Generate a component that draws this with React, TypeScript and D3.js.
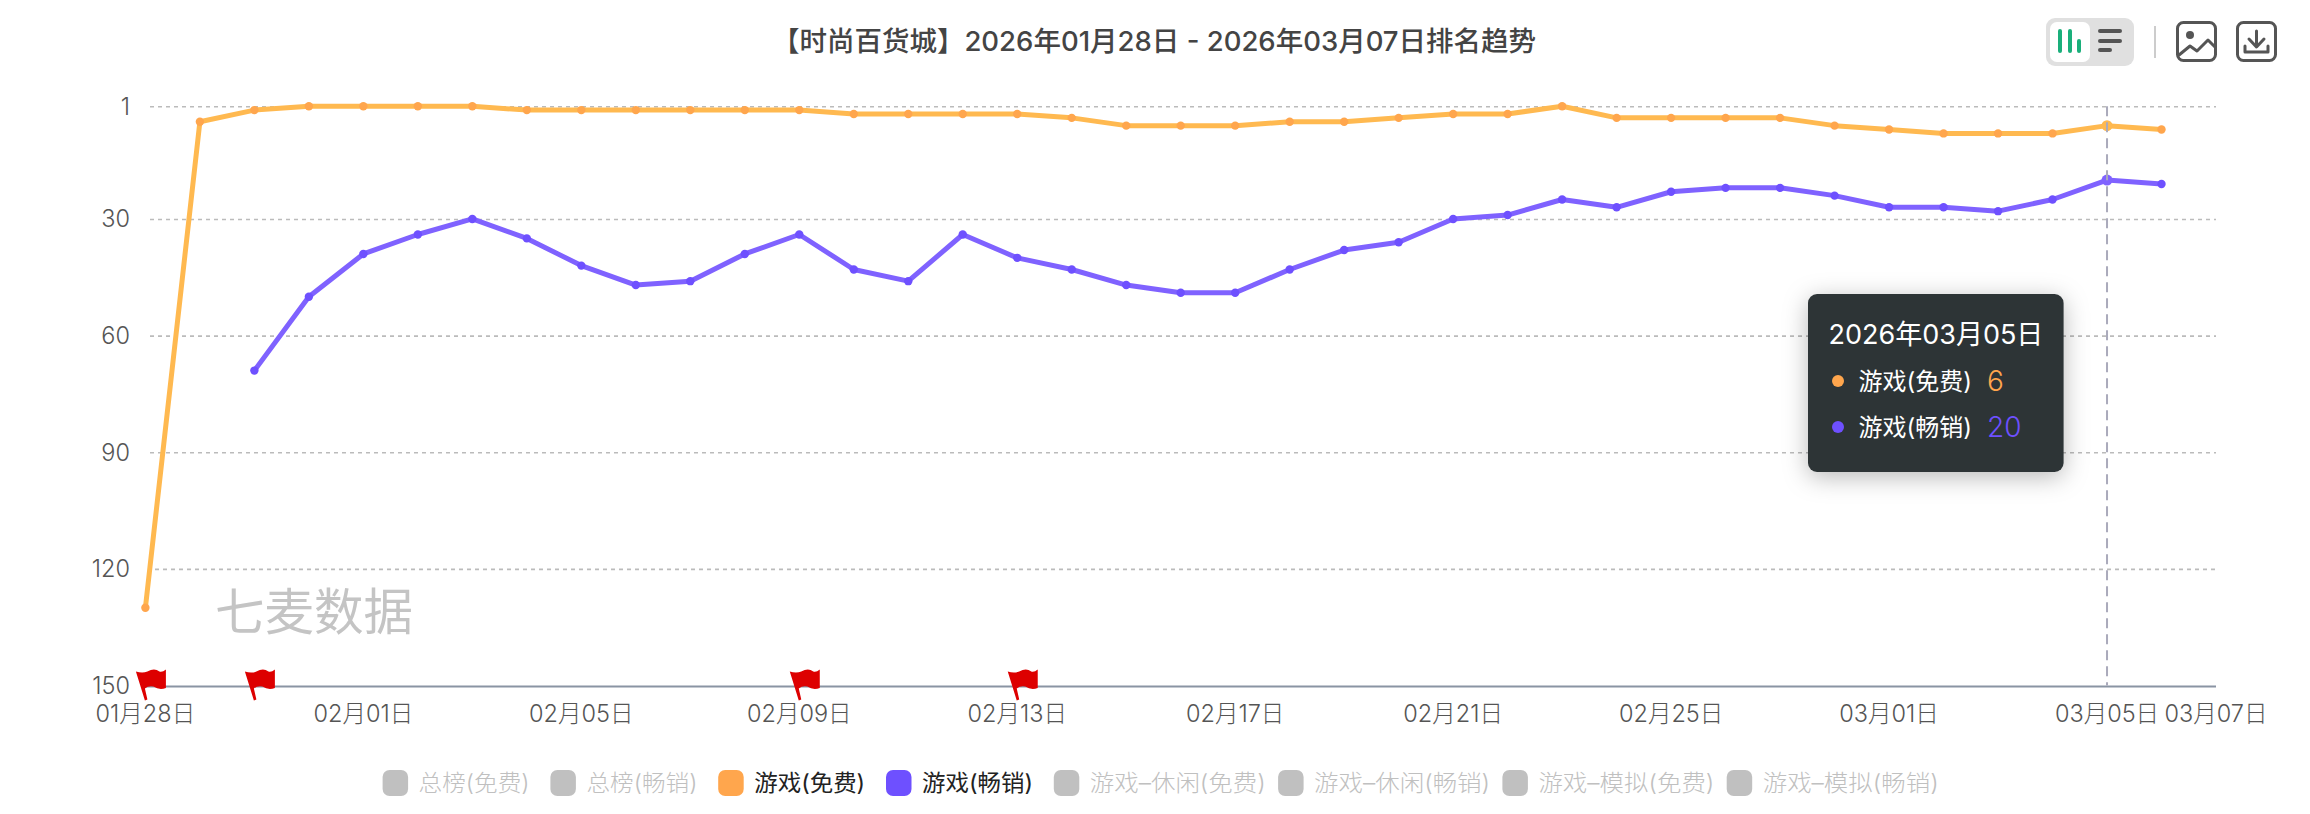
import React from "react";
import * as d3 from "d3";

const WIDTH = 2310;
const HEIGHT = 814;
const FONT = 'Inter, "Noto Sans CJK SC", sans-serif';

const dayLabels = [
  "01月28日","01月29日","01月30日","01月31日","02月01日","02月02日","02月03日","02月04日","02月05日","02月06日",
  "02月07日","02月08日","02月09日","02月10日","02月11日","02月12日","02月13日","02月14日","02月15日","02月16日",
  "02月17日","02月18日","02月19日","02月20日","02月21日","02月22日","02月23日","02月24日","02月25日","02月26日",
  "02月27日","02月28日","03月01日","03月02日","03月03日","03月04日","03月05日","03月06日","03月07日",
];
const xTickDays = [0, 4, 8, 12, 16, 20, 24, 28, 32, 36, 38];
const yTicks = [1, 30, 60, 90, 120, 150];
const gameFree: number[] = [130,5,2,1,1,1,1,2,2,2,2,2,2,3,3,3,3,4,6,6,6,5,5,4,3,3,1,4,4,4,4,6,7,8,8,8,6,7];
const gamePaid: (number | null)[] = [null,null,69,50,39,34,30,35,42,47,46,39,34,43,46,34,40,43,47,49,49,43,38,36,30,29,25,27,23,22,22,24,27,27,28,25,20,21];
const flagDays = [0, 2, 12, 16];
const hoverDay = 36;
const legendLabels = ["总榜(免费)","总榜(畅销)","游戏(免费)","游戏(畅销)","游戏–休闲(免费)","游戏–休闲(畅销)","游戏–模拟(免费)","游戏–模拟(畅销)"];
const legendActive = ["游戏(免费)", "游戏(畅销)"];
const titleText = "【时尚百货城】2026年01月28日 - 2026年03月07日排名趋势";
const tooltipTitle = "2026年03月05日";

const ORANGE = "#FFA64D";
const ORANGE_LINE = "#FFB950";
const PURPLE = "#6E50FF";
const PURPLE_LINE = "#7F62FF";

const x = d3.scaleLinear().domain([0, 38]).range([145.4, 2216]);
const y = d3.scaleLinear().domain([1, 150]).range([106.2, 685.5]);

const linePath = d3
  .line<number | null>()
  .defined((d) => d !== null)
  .x((_, i) => x(i))
  .y((d) => y(d as number));

const FLAG = "M-9.5,-15 Q-3,-13 2,-15 Q9,-19 14,-15 Q17,-14 20.5,-17 L20.5,1.5 Q14,4 8,0 Q3,-1 -0.5,2 L2,13 L-0.5,14 Z";

function Series({ values, line, dot }: { values: (number | null)[]; line: string; dot: string }) {
  return (
    <g>
      <path d={linePath(values) ?? ""} fill="none" stroke={line} strokeWidth={5} strokeLinejoin="round" />
      {values.map((v, i) =>
        v === null ? null : <circle key={i} cx={x(i)} cy={y(v)} r={i === hoverDay ? 5.5 : 4.2} fill={i === hoverDay ? line : dot} />
      )}
    </g>
  );
}

function Toolbar() {
  const ic = { fill: "none", stroke: "#555", strokeWidth: 3, strokeLinejoin: "round" as const, strokeLinecap: "round" as const };
  return (
    <g>
      <rect x={2046} y={18} width={88} height={48} rx={9} fill="#e0e0e0" />
      <rect x={2050} y={22} width={40} height={40} rx={7} fill="#fff" />
      <rect x={2058} y={29} width={4} height={24} rx={2} fill="#1aaf7b" />
      <rect x={2068} y={29} width={4} height={24} rx={2} fill="#1aaf7b" />
      <rect x={2077} y={39} width={4} height={14} rx={2} fill="#1aaf7b" />
      <rect x={2098} y={29} width={24} height={4} rx={2} fill="#555" />
      <rect x={2098} y={39} width={24} height={4} rx={2} fill="#555" />
      <rect x={2098} y={48} width={14} height={4} rx={2} fill="#555" />
      <rect x={2154} y={26} width={2} height={32} fill="#ccc" />
      <rect x={2177.5} y={22.5} width={38} height={38} rx={6} {...ic} />
      <circle cx={2190} cy={35} r={4} fill="#555" />
      <path d="M2179,55 L2190,46 L2197,51 L2208,40 L2215,47" {...ic} />
      <rect x={2237.5} y={22.5} width={38} height={38} rx={6} {...ic} />
      <path d="M2256.5,31 L2256.5,46 M2249,39 L2256.5,47 L2264,39 M2245,46 L2245,52 L2268,52 L2268,46" {...ic} />
    </g>
  );
}

function Legend() {
  let cursor = 382.6;
  return (
    <g fontFamily={FONT} fontSize={23}>
      {legendLabels.map((label) => {
        const on = legendActive.includes(label);
        const color = label === "游戏(免费)" ? ORANGE : label === "游戏(畅销)" ? PURPLE : "#c0c0c0";
        const left = cursor;
        cursor += label.includes("–") ? 224.3 : 167.8;
        return (
          <g key={label}>
            <rect x={left} y={770} width={25.5} height={26} rx={7} fill={color} />
            <text x={left + 36} y={783} dominantBaseline="central" fill={on ? "#222" : "#c0c0c0"} fontWeight={on ? 400 : 300}
              textLength={label.includes("–") ? 176 : 111} lengthAdjust="spacingAndGlyphs">
              {label}
            </text>
          </g>
        );
      })}
    </g>
  );
}

function Tooltip() {
  const left = 1808;
  const top = 294;
  return (
    <g fontFamily={FONT}>
      <rect x={left} y={top} width={255.6} height={178} rx={9} fill="#2D3436" style={{ filter: "drop-shadow(0 5px 12px rgba(0,0,0,0.28))" }} />
      <text x={left + 20.5} y={top + 40} dominantBaseline="central" fontSize={27} fontWeight={400} fill="#fff">{tooltipTitle}</text>
      <circle cx={left + 30} cy={top + 87} r={6} fill={ORANGE} />
      <text x={left + 50.5} y={top + 87} dominantBaseline="central" fontSize={24} fontWeight={400} fill="#fff">{legendLabels[2]}</text>
      <text x={left + 179} y={top + 87} dominantBaseline="central" fontSize={28} fontWeight={300} fill={ORANGE}>{gameFree[hoverDay]}</text>
      <circle cx={left + 30} cy={top + 133} r={6} fill={PURPLE} />
      <text x={left + 50.5} y={top + 133} dominantBaseline="central" fontSize={24} fontWeight={400} fill="#fff">{legendLabels[3]}</text>
      <text x={left + 179} y={top + 133} dominantBaseline="central" fontSize={28} fontWeight={300} fill={PURPLE}>{gamePaid[hoverDay]}</text>
    </g>
  );
}

export default function App() {
  return (
    <svg width={WIDTH} height={HEIGHT} style={{ position: "absolute", left: 0, top: 0, background: "#fff" }}>
      <text x={1154} y={41} textAnchor="middle" dominantBaseline="central" fontFamily={FONT} fontSize={27.5} fontWeight={500} fill="#444">
        {titleText}
      </text>
      <Toolbar />

      {yTicks.filter((t) => t !== 150).map((t) => (
        <line key={t} x1={t === 120 ? 155 : 150} x2={2216} y1={y(t) + 0.5} y2={y(t) + 0.5} stroke="#bbb" strokeWidth={1.6} strokeDasharray="4 4" />
      ))}
      {yTicks.map((t) => (
        <text key={t} x={130} y={y(t)} textAnchor="end" dominantBaseline="central" fontFamily={FONT} fontSize={23.5} fontWeight={300} fill="#555">{t}</text>
      ))}

      <line x1={x(0)} x2={x(38)} y1={y(150) + 1} y2={y(150) + 1} stroke="#8A94A3" strokeWidth={2} />

      {xTickDays.map((d) => (
        <text key={d} x={x(d)} y={713} textAnchor="middle" dominantBaseline="central" fontFamily={FONT} fontSize={23.5} fontWeight={300} fill="#555">
          {dayLabels[d]}
        </text>
      ))}

      <text x={215} y={612} dominantBaseline="central" fontFamily={FONT} fontSize={49.5} fontWeight={400} fill="#c4c4c4">七麦数据</text>

      <Series values={gameFree} line={ORANGE_LINE} dot={ORANGE} />
      <Series values={gamePaid} line={PURPLE_LINE} dot={PURPLE} />

      <line x1={x(hoverDay)} x2={x(hoverDay)} y1={y(1)} y2={y(150)} stroke="#aab" strokeWidth={2} strokeDasharray="10 6" />

      {flagDays.map((d) => (
        <path key={d} d={FLAG} transform={`translate(${x(d)},${y(150) + 1})`} fill="#DD0000" />
      ))}

      <Legend />
      <Tooltip />
    </svg>
  );
}
